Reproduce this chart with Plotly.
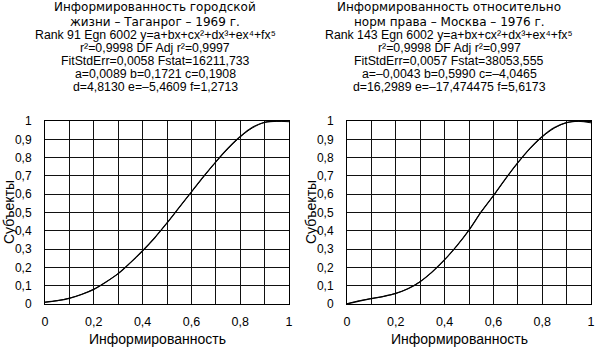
import plotly.graph_objects as go

W, H = 596, 349

x_vals = [0.0, 0.05, 0.1, 0.15, 0.2, 0.25, 0.3, 0.35, 0.4, 0.45, 0.5,
          0.55, 0.6, 0.65, 0.7, 0.75, 0.8, 0.85, 0.9, 0.95, 1.0]

left_data = [0.010, 0.018, 0.031, 0.052, 0.080, 0.120, 0.166, 0.226, 0.291, 0.362, 0.443,
             0.528, 0.612, 0.697, 0.777, 0.851, 0.915, 0.966, 0.993, 0.999, 1.000]
left_fit = [0.009, 0.018, 0.032, 0.053, 0.081, 0.120, 0.167, 0.225, 0.290, 0.363, 0.443,
            0.527, 0.612, 0.695, 0.776, 0.849, 0.913, 0.962, 0.992, 0.998, 0.996]

right_data = [0.000, 0.016, 0.029, 0.042, 0.058, 0.083, 0.122, 0.177, 0.242, 0.318, 0.404,
              0.503, 0.592, 0.685, 0.772, 0.850, 0.915, 0.964, 0.991, 0.999, 0.997]
right_fit = [0.002, 0.018, 0.030, 0.041, 0.058, 0.084, 0.123, 0.175, 0.241, 0.318, 0.404,
             0.505, 0.591, 0.684, 0.771, 0.849, 0.913, 0.961, 0.991, 0.998, 0.990]

y_ticks = [0, 0.1, 0.2, 0.3, 0.4, 0.5, 0.6, 0.7, 0.8, 0.9, 1.0]
y_ticktext = ["0", "0,1", "0,2", "0,3", "0,4", "0,5", "0,6", "0,7", "0,8", "0,9", "1"]
x_ticks = [0, 0.1, 0.2, 0.3, 0.4, 0.5, 0.6, 0.7, 0.8, 0.9, 1.0]
x_ticktext = ["0", "", "0,2", "", "0,4", "", "0,6", "", "0,8", "", "1"]

left_title = [
    "Информированность городской",
    "жизни – Таганрог – 1969 г.",
    "Rank 91 Egn 6002 y=a+bx+cx²+dx³+ex⁴+fx⁵",
    "r²=0,9998 DF Adj r²=0,9997",
    "FitStdErr=0,0058 Fstat=16211,733",
    "a=0,0089 b=0,1721 c=0,1908",
    "d=4,8130 e=–5,4609 f=1,2713",
]
right_title = [
    "Информированность относительно",
    "норм права – Москва – 1976 г.",
    "Rank 143 Egn 6002 y=a+bx+cx²+dx³+ex⁴+fx⁵",
    "r²=0,9998 DF Adj r²=0,997",
    "FitStdErr=0,0057 Fstat=38053,555",
    "a=–0,0043 b=0,5990 c=–4,0465",
    "d=16,2989 e=–17,474475 f=5,6173",
]
x_label = "Информированность"
y_label = "Субъекты"

FONT = "Liberation Sans, Arial, sans-serif"
FONT_CYR = "DejaVu Sans, Liberation Sans, sans-serif"


def px(x):
    return x / W


def py(y):
    return 1 - y / H


plot_top, plot_bot = 121, 304
panels = [
    dict(left=45, right=289, center=155, title=left_title, data=left_data, fit=left_fit),
    dict(left=347, right=591, center=449, title=right_title, data=right_data, fit=right_fit),
]

fig = go.Figure()
annotations = []
title_ys = [7.5, 22.5, 35.4, 48.3, 61.5, 74.4, 87.3]

for i, p in enumerate(panels):
    xa = "xaxis" if i == 0 else "xaxis2"
    ya = "yaxis" if i == 0 else "yaxis2"
    xref = "x" if i == 0 else "x2"
    yref = "y" if i == 0 else "y2"
    fig.add_trace(go.Scatter(x=x_vals, y=p["fit"], mode="lines",
                             line=dict(color="black", width=1.0, shape="spline"),
                             xaxis=xref, yaxis=yref, showlegend=False))
    fig.add_trace(go.Scatter(x=x_vals, y=p["data"], mode="lines",
                             line=dict(color="black", width=1.2, shape="spline"),
                             xaxis=xref, yaxis=yref, showlegend=False))
    fig.layout[xa] = dict(
        domain=[px(p["left"]), px(p["right"])], range=[0, 1], anchor=yref,
        tickvals=x_ticks, ticktext=x_ticktext, showgrid=True, gridcolor="#111", gridwidth=1,
        showline=True, linecolor="black", linewidth=1, mirror=True, zeroline=False,
        ticks="outside", ticklen=6, tickcolor="rgba(0,0,0,0)", automargin=False,
        tickfont=dict(family=FONT, size=12.5, color="black"),
    )
    fig.layout[ya] = dict(
        domain=[py(plot_bot), py(plot_top)], range=[0, 1], anchor=xref,
        tickvals=y_ticks, ticktext=y_ticktext, showgrid=True, gridcolor="#111", gridwidth=1,
        showline=True, linecolor="black", linewidth=1, mirror=True, zeroline=False,
        ticks="outside", ticklen=10, tickcolor="rgba(0,0,0,0)", automargin=False,
        tickfont=dict(family=FONT, size=12, color="black"),
    )
    for j, (t, yy) in enumerate(zip(p["title"], title_ys)):
        annotations.append(dict(text=t, x=px(p["center"]), y=py(yy), xref="paper", yref="paper",
                                xanchor="center", yanchor="middle", showarrow=False, borderpad=0,
                                font=dict(family=FONT_CYR if j < 2 else FONT,
                                          size=12 if j < 2 else 12.3, color="black")))
    annotations.append(dict(text=x_label, x=px((p["left"] + p["right"]) / 2 - 10), y=py(339),
                            xref="paper", yref="paper", xanchor="center", yanchor="middle",
                            showarrow=False, font=dict(family=FONT, size=14, color="black")))
    annotations.append(dict(text=y_label, x=px(p["left"] - 36), y=py(212), xref="paper", yref="paper",
                            xanchor="center", yanchor="middle", showarrow=False, textangle=-90,
                            font=dict(family=FONT, size=14, color="black")))

fig.update_layout(
    width=W, height=H, margin=dict(l=0, r=0, t=0, b=0, pad=0),
    paper_bgcolor="white", plot_bgcolor="white",
    annotations=annotations,
)

fig.write_html("out.html")
